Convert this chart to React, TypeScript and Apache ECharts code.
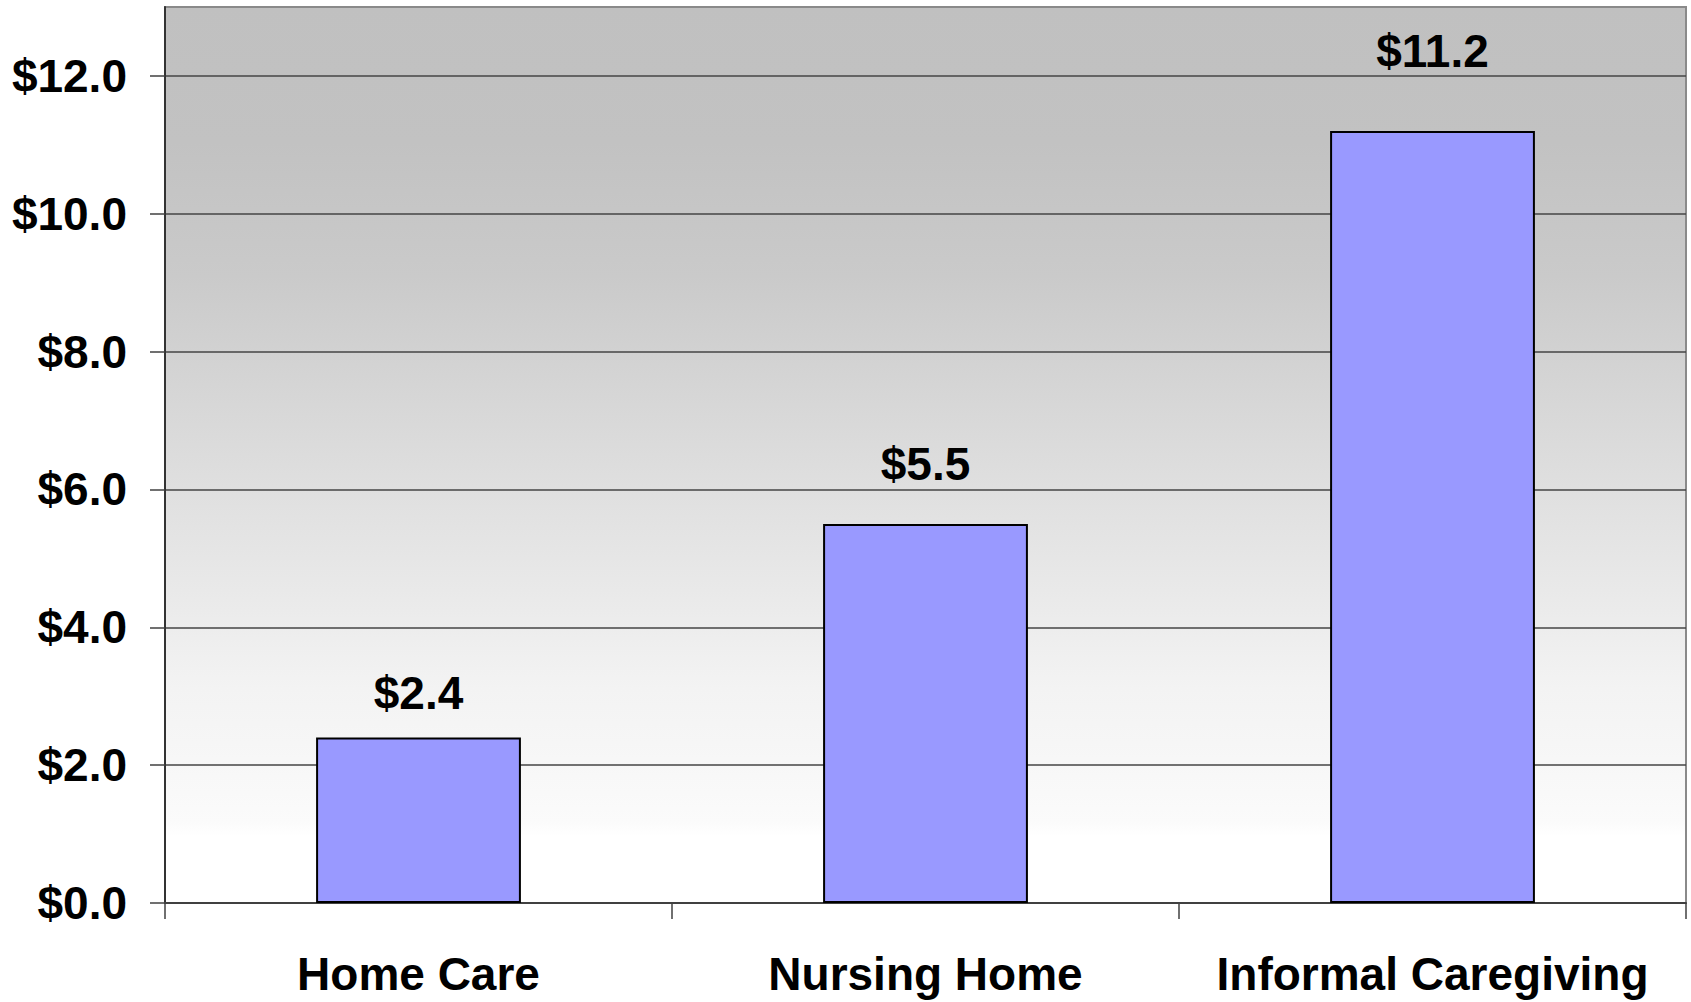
import React, { useEffect, useRef } from "react";
import * as echarts from "echarts";

const categories = ["Home Care", "Nursing Home", "Informal Caregiving"];
const values = [2.4, 5.5, 11.2];
const yTicks = [0, 2, 4, 6, 8, 10, 12];
const yMax = 13;
const labelDistances = [22, 37, 57];

const FONT = '"Liberation Sans", Arial, Helvetica, sans-serif';

export default function App() {
  const ref = useRef<HTMLDivElement>(null);
  useEffect(() => {
    if (!ref.current) return;
    const chart = echarts.init(ref.current, null, { renderer: "svg" });
    chart.setOption({
      animation: false,
      backgroundColor: "#ffffff",
      grid: {
        left: 165,
        right: 5,
        top: 7,
        bottom: 99,
        show: true,
        borderColor: "#8a8a8a",
        borderWidth: 2,
        backgroundColor: new echarts.graphic.LinearGradient(0, 0, 0, 1, [
          { offset: 0, color: "#c0c0c0" },
          { offset: 0.15, color: "#c2c2c2" },
          { offset: 0.3, color: "#cacaca" },
          { offset: 0.5, color: "#dcdcdc" },
          { offset: 0.65, color: "#e9e9e9" },
          { offset: 0.76, color: "#f3f3f3" },
          { offset: 0.86, color: "#f8f8f8" },
          { offset: 0.91, color: "#fbfbfb" },
          { offset: 0.925, color: "#ffffff" },
          { offset: 1, color: "#ffffff" },
        ]),
      },
      xAxis: {
        type: "category",
        data: categories,
        boundaryGap: true,
        axisLine: { show: true, lineStyle: { color: "#404040", width: 2 } },
        axisTick: {
          show: true,
          interval: 0,
          alignWithLabel: false,
          length: 16,
          lineStyle: { color: "#404040", width: 1.5 },
        },
        axisLabel: {
          interval: 0,
          hideOverlap: false,
          margin: 48,
          color: "#000",
          fontFamily: FONT,
          fontWeight: "bold",
          fontSize: 46,
        },
        splitLine: { show: false },
      },
      yAxis: {
        type: "value",
        min: 0,
        max: yMax,
        interval: 2,
        axisLine: { show: true, lineStyle: { color: "#333333", width: 2 } },
        axisTick: {
          show: true,
          inside: false,
          length: 15,
          customValues: yTicks,
          lineStyle: { color: "#404040", width: 1.5 },
        },
        axisLabel: {
          customValues: yTicks,
          margin: 38,
          color: "#000",
          fontFamily: FONT,
          fontWeight: "bold",
          fontSize: 46,
          formatter: (v: number) => "$" + v.toFixed(1),
        },
        splitLine: { show: true, lineStyle: { color: "#454545", width: 1.5 } },
      },
      series: [
        {
          type: "bar",
          barWidth: "40.4%",
          data: values.map((v, i) => ({
            value: v,
            label: { distance: labelDistances[i] },
          })),
          itemStyle: { color: "#9999ff", borderColor: "#000000", borderWidth: 2 },
          label: {
            show: true,
            position: "top",
            color: "#000",
            fontFamily: FONT,
            fontWeight: "bold",
            fontSize: 46,
            formatter: (p: any) => "$" + Number(p.value).toFixed(1),
          },
        },
      ],
    });
    return () => chart.dispose();
  }, []);
  return (
    <div
      ref={ref}
      style={{ position: "fixed", left: 0, top: 0, width: 1691, height: 1002 }}
    />
  );
}
